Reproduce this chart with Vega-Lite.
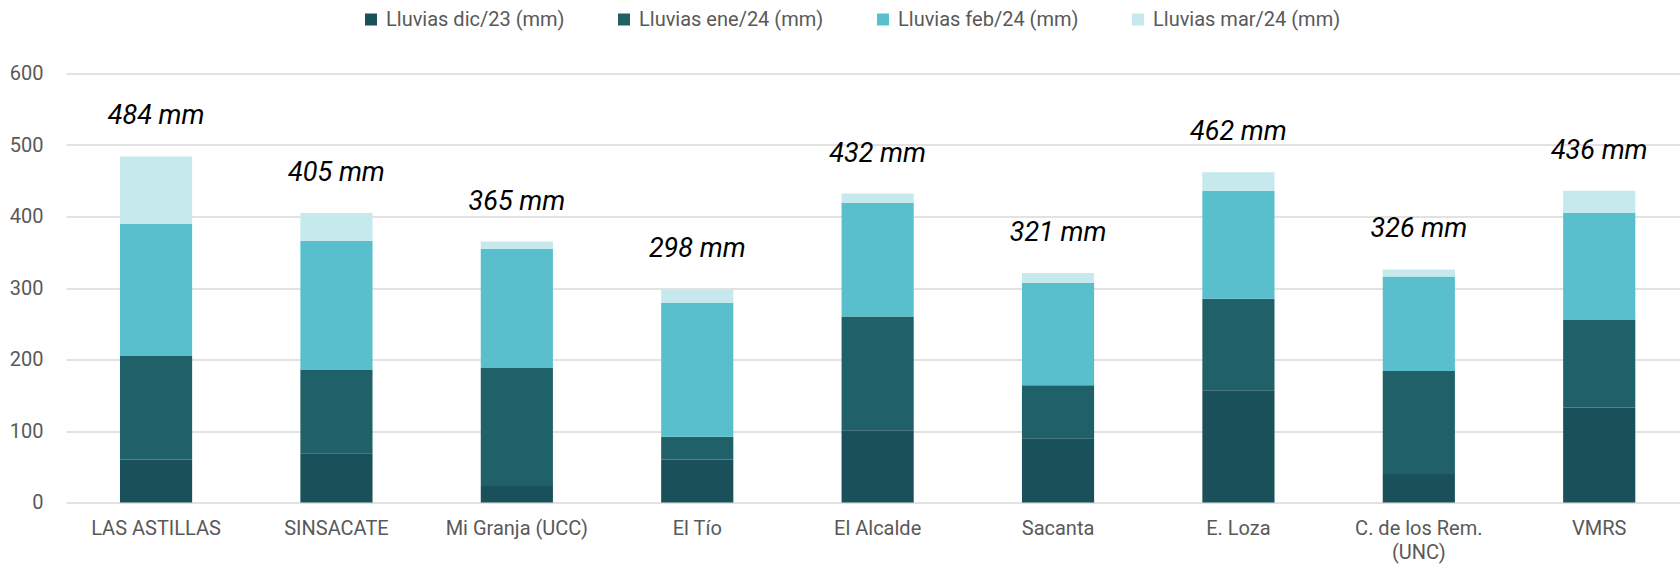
{
  "$schema": "https://vega.github.io/schema/vega-lite/v6.json",
  "width": 1614,
  "height": 429,
  "autosize": {"type": "none"},
  "padding": {"left": 66, "top": 73.5, "right": 0, "bottom": 71.5},
  "background": "white",
  "config": {
    "view": {"stroke": null},
    "font": "Roboto"
  },
  "datasets": {
    "lluvias": [
      {"estacion": "LAS ASTILLAS", "mes": "Lluvias dic/23 (mm)", "orden": 1, "mm": 60},
      {"estacion": "LAS ASTILLAS", "mes": "Lluvias ene/24 (mm)", "orden": 2, "mm": 145},
      {"estacion": "LAS ASTILLAS", "mes": "Lluvias feb/24 (mm)", "orden": 3, "mm": 185},
      {"estacion": "LAS ASTILLAS", "mes": "Lluvias mar/24 (mm)", "orden": 4, "mm": 94},
      {"estacion": "SINSACATE", "mes": "Lluvias dic/23 (mm)", "orden": 1, "mm": 69},
      {"estacion": "SINSACATE", "mes": "Lluvias ene/24 (mm)", "orden": 2, "mm": 117},
      {"estacion": "SINSACATE", "mes": "Lluvias feb/24 (mm)", "orden": 3, "mm": 180},
      {"estacion": "SINSACATE", "mes": "Lluvias mar/24 (mm)", "orden": 4, "mm": 39},
      {"estacion": "Mi Granja (UCC)", "mes": "Lluvias dic/23 (mm)", "orden": 1, "mm": 23},
      {"estacion": "Mi Granja (UCC)", "mes": "Lluvias ene/24 (mm)", "orden": 2, "mm": 165},
      {"estacion": "Mi Granja (UCC)", "mes": "Lluvias feb/24 (mm)", "orden": 3, "mm": 167},
      {"estacion": "Mi Granja (UCC)", "mes": "Lluvias mar/24 (mm)", "orden": 4, "mm": 10},
      {"estacion": "El Tío", "mes": "Lluvias dic/23 (mm)", "orden": 1, "mm": 60},
      {"estacion": "El Tío", "mes": "Lluvias ene/24 (mm)", "orden": 2, "mm": 32},
      {"estacion": "El Tío", "mes": "Lluvias feb/24 (mm)", "orden": 3, "mm": 187},
      {"estacion": "El Tío", "mes": "Lluvias mar/24 (mm)", "orden": 4, "mm": 19},
      {"estacion": "El Alcalde", "mes": "Lluvias dic/23 (mm)", "orden": 1, "mm": 101},
      {"estacion": "El Alcalde", "mes": "Lluvias ene/24 (mm)", "orden": 2, "mm": 159},
      {"estacion": "El Alcalde", "mes": "Lluvias feb/24 (mm)", "orden": 3, "mm": 159},
      {"estacion": "El Alcalde", "mes": "Lluvias mar/24 (mm)", "orden": 4, "mm": 13},
      {"estacion": "Sacanta", "mes": "Lluvias dic/23 (mm)", "orden": 1, "mm": 90},
      {"estacion": "Sacanta", "mes": "Lluvias ene/24 (mm)", "orden": 2, "mm": 74},
      {"estacion": "Sacanta", "mes": "Lluvias feb/24 (mm)", "orden": 3, "mm": 143},
      {"estacion": "Sacanta", "mes": "Lluvias mar/24 (mm)", "orden": 4, "mm": 14},
      {"estacion": "E. Loza", "mes": "Lluvias dic/23 (mm)", "orden": 1, "mm": 157},
      {"estacion": "E. Loza", "mes": "Lluvias ene/24 (mm)", "orden": 2, "mm": 128},
      {"estacion": "E. Loza", "mes": "Lluvias feb/24 (mm)", "orden": 3, "mm": 151},
      {"estacion": "E. Loza", "mes": "Lluvias mar/24 (mm)", "orden": 4, "mm": 26},
      {"estacion": "C. de los Rem. (UNC)", "mes": "Lluvias dic/23 (mm)", "orden": 1, "mm": 40},
      {"estacion": "C. de los Rem. (UNC)", "mes": "Lluvias ene/24 (mm)", "orden": 2, "mm": 144},
      {"estacion": "C. de los Rem. (UNC)", "mes": "Lluvias feb/24 (mm)", "orden": 3, "mm": 132},
      {"estacion": "C. de los Rem. (UNC)", "mes": "Lluvias mar/24 (mm)", "orden": 4, "mm": 10},
      {"estacion": "VMRS", "mes": "Lluvias dic/23 (mm)", "orden": 1, "mm": 133},
      {"estacion": "VMRS", "mes": "Lluvias ene/24 (mm)", "orden": 2, "mm": 123},
      {"estacion": "VMRS", "mes": "Lluvias feb/24 (mm)", "orden": 3, "mm": 149},
      {"estacion": "VMRS", "mes": "Lluvias mar/24 (mm)", "orden": 4, "mm": 31}
    ],
    "totales": [
      {"estacion": "LAS ASTILLAS", "total": 484, "etiqueta": "484 mm"},
      {"estacion": "SINSACATE", "total": 405, "etiqueta": "405 mm"},
      {"estacion": "Mi Granja (UCC)", "total": 365, "etiqueta": "365 mm"},
      {"estacion": "El Tío", "total": 298, "etiqueta": "298 mm"},
      {"estacion": "El Alcalde", "total": 432, "etiqueta": "432 mm"},
      {"estacion": "Sacanta", "total": 321, "etiqueta": "321 mm"},
      {"estacion": "E. Loza", "total": 462, "etiqueta": "462 mm"},
      {"estacion": "C. de los Rem. (UNC)", "total": 326, "etiqueta": "326 mm"},
      {"estacion": "VMRS", "total": 436, "etiqueta": "436 mm"}
    ]
  },
  "layer": [
    {
      "data": {"name": "lluvias"},
      "mark": {"type": "bar"},
      "encoding": {
        "x": {
          "field": "estacion",
          "type": "nominal",
          "sort": null,
          "scale": {"paddingInner": 0.6, "paddingOuter": 0.2735, "align": 0.547},
          "axis": {
            "title": null,
            "labelAngle": 0,
            "labelFontSize": 20,
            "labelColor": "#595959",
            "labelFont": "Roboto",
            "labelPadding": 16,
            "labelLineHeight": 24,
            "labelExpr": "datum.label == 'C. de los Rem. (UNC)' ? ['C. de los Rem.', '(UNC)'] : datum.label",
            "domain": false,
            "ticks": false,
            "grid": false
          }
        },
        "y": {
          "field": "mm",
          "type": "quantitative",
          "aggregate": "sum",
          "stack": "zero",
          "scale": {"domain": [0, 600], "nice": false},
          "axis": {
            "title": null,
            "values": [0, 100, 200, 300, 400, 500, 600],
            "labelFontSize": 20,
            "labelColor": "#595959",
            "labelFont": "Roboto",
            "labelPadding": 23,
            "domain": false,
            "ticks": false,
            "grid": true,
            "gridColor": "#d9d9d9",
            "gridWidth": 1.5
          }
        },
        "color": {
          "field": "mes",
          "type": "nominal",
          "scale": {
            "domain": ["Lluvias dic/23 (mm)", "Lluvias ene/24 (mm)", "Lluvias feb/24 (mm)", "Lluvias mar/24 (mm)"],
            "range": ["#1A505A", "#206169", "#5ABFCC", "#C5E9EC"]
          },
          "legend": {
            "title": null,
            "orient": "none",
            "direction": "horizontal",
            "legendX": 295,
            "legendY": -64,
            "symbolType": "square",
            "symbolSize": 144,
            "symbolStrokeWidth": 0,
            "labelFontSize": 20,
            "labelFont": "Roboto",
            "labelColor": "#595959",
            "labelOffset": 5,
            "labelLimit": 400,
            "columnPadding": 49
          }
        },
        "order": {"field": "orden", "type": "quantitative", "sort": "ascending"}
      }
    },
    {
      "data": {"name": "totales"},
      "mark": {
        "type": "text",
        "font": "Roboto",
        "fontStyle": "italic",
        "fontSize": 27,
        "color": "#000000",
        "baseline": "alphabetic",
        "align": "center",
        "dy": -32
      },
      "encoding": {
        "x": {"field": "estacion", "type": "nominal", "sort": null},
        "y": {"field": "total", "type": "quantitative"},
        "text": {"field": "etiqueta", "type": "nominal"}
      }
    }
  ]
}
